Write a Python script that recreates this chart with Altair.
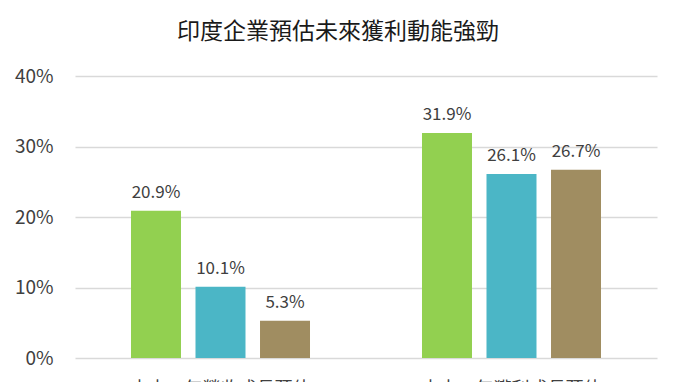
import altair as alt
import pandas as pd

categories = ["未來一年營收成長預估", "未來一年獲利成長預估"]
series = ["印度", "亞太", "全球"]
values = {
    "印度": [20.9, 31.9],
    "亞太": [10.1, 26.1],
    "全球": [5.3, 26.7],
}
colors = ["#92D050", "#4BB6C6", "#A08D61"]
title_text = "印度企業預估未來獲利動能強勁"

rows = []
for s in series:
    for c, v in zip(categories, values[s]):
        rows.append({"category": c, "series": s, "value": v / 100.0, "label": f"{v:.1f}%"})
df = pd.DataFrame(rows)

FONT = "Noto Sans CJK TC"

base = alt.Chart(df).encode(
    x=alt.X("category:N", sort=categories, title=None,
            scale=alt.Scale(paddingInner=0, paddingOuter=0),
            axis=alt.Axis(labelAngle=0, labelFontSize=18, labelColor="#404040",
                          labelFont=FONT, labelBaseline="top", labelPadding=22,
                          ticks=False, domain=False)),
    xOffset=alt.XOffset("series:N", sort=series,
                        scale=alt.Scale(paddingInner=0.225, paddingOuter=0.868)),
)

bars = base.mark_bar().encode(
    y=alt.Y("value:Q", title=None,
            scale=alt.Scale(domain=[0, 0.4]),
            axis=alt.Axis(format=".0%", values=[0, 0.1, 0.2, 0.3, 0.4],
                          labelFontSize=19, labelColor="#404040", labelFont=FONT,
                          labelPadding=22, ticks=False, domain=False,
                          grid=True, gridColor="#D9D9D9", gridWidth=1.5)),
    color=alt.Color("series:N", sort=series,
                    scale=alt.Scale(domain=series, range=colors),
                    legend=alt.Legend(orient="bottom", title=None, labelFontSize=16,
                                      labelFont=FONT)),
)

texts = base.mark_text(baseline="bottom", dy=-9, fontSize=17, color="#404040",
                       font=FONT).encode(
    y=alt.Y("value:Q"),
    text=alt.Text("label:N"),
)

chart = (bars + texts).properties(
    width=582,
    height=282,
    autosize=alt.AutoSizeParams(type="none"),
    padding={"left": 67, "top": 68, "right": 15, "bottom": 24},
    title=alt.Title(title_text, fontSize=23, font=FONT, fontWeight="normal",
                    color="#1A1A1A", anchor="middle", dx=-28, offset=23),
).configure_view(stroke=None)

chart.save("out.html", embed_options={"renderer": "svg", "actions": False})
